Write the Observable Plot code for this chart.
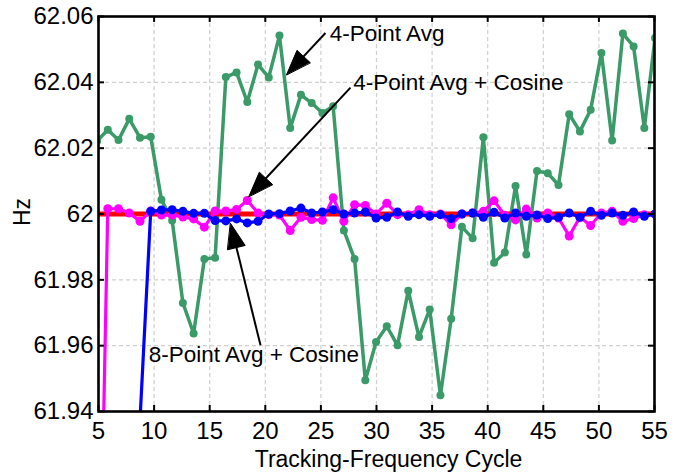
<!DOCTYPE html>
<html>
<head>
<meta charset="utf-8">
<script src="https://cdn.jsdelivr.net/npm/d3@7"></script>
<script src="https://cdn.jsdelivr.net/npm/@observablehq/plot@0.6"></script>
<style>
  html, body { margin: 0; padding: 0; background: #fff; }
</style>
</head>
<body>
<div id="chart"></div>
<script>
// Estimated frequency per tracking-frequency cycle, for three estimators.
const firstCycle = 4.87;
const cycleStep = 0.965;

const avg4Hz = [
  62.0222, 62.0256, 62.0225, 62.0289, 62.0232, 62.0235, 62.0043, 61.998, 61.973, 61.9637,
  61.9863, 61.9867, 62.0416, 62.043, 62.034, 62.0454, 62.0415, 62.0542, 62.0261, 62.0362,
  62.0337, 62.0307, 62.0327, 61.995, 61.9863, 61.9495, 61.9611, 61.9659, 61.9601, 61.9767,
  61.9626, 61.971, 61.9449, 61.9682, 61.9961, 61.9926, 62.0233, 61.9852, 61.9883, 62.0085,
  61.9877, 62.0131, 62.0124, 62.0088, 62.0303, 62.0251, 62.0317, 62.0489, 62.0223, 62.0548,
  62.0509, 62.0261, 62.0535
];

const avg4CosHz = [
  61.837, 62.0016, 62.0016, 62.0003, 61.9978, 62.0009, 61.9997, 61.9997, 61.9991, 61.9985,
  61.996, 62.0009, 62.0009, 62.0014, 62.0041, 62.0003, 61.9998, 61.9997, 61.995, 61.999,
  61.9983, 61.9981, 62.0049, 61.9978, 62.0028, 62.0026, 62.0, 62.0033, 61.9998, 61.9998,
  62.0013, 61.9998, 62.0, 61.9967, 62.0, 62.0003, 62.0008, 62.004, 61.9996, 61.9982,
  62.0015, 61.9988, 62.0003, 61.9988, 61.9933, 61.999, 61.9965, 62.0003, 62.0008, 61.9978,
  61.9986, 61.9998, 62.0
];

const avg8CosHz = [
  null, null, null, null, 61.9373, 62.0008, 62.0012, 62.0013, 62.0008, 62.0002,
  62.0002, 61.998, 61.9979, 61.9985, 61.9973, 61.9978, 62.0, 62.0001, 62.0009, 62.0018,
  62.0003, 62.0006, 62.0013, 62.0, 62.0003, 62.0006, 61.9988, 61.999, 62.0006, 61.9993,
  61.9998, 61.9993, 61.9998, 61.9986, 62.0, 62.0003, 61.999, 62.0005, 61.9988, 62.0003,
  61.9993, 61.9997, 61.9986, 61.999, 62.0003, 61.999, 62.0008, 61.9996, 62.0003, 61.9996,
  62.0006, 61.9993, 62.0
];

const nominalHz = 62;

const xTicks = [5, 10, 15, 20, 25, 30, 35, 40, 45, 50, 55];
const yTicks = [61.94, 61.96, 61.98, 62, 62.02, 62.04, 62.06];

// Callout labels (text baseline-left anchor) and their arrows (tail -> tip)
const callouts = [
  {text: "4-Point Avg", x: 25.8, y: 62.0525},
  {text: "4-Point Avg + Cosine", x: 27.9, y: 62.0376},
  {text: "8-Point Avg + Cosine", x: 9.52, y: 61.955}
];
const arrows = [
  {x1: 25.41, y1: 62.055, x2: 21.91, y2: 62.0423},
  {x1: 27.66, y1: 62.0384, x2: 18.52, y2: 62.0053},
  {x1: 19.57, y1: 61.9601, x2: 16.87, y2: 61.99717}
];

const W = 676, H = 472;
const M = {top: 16, right: 22, bottom: 61, left: 98};
const xDomain = [5, 55], yDomain = [61.94, 62.06];
const frameW = W - M.left - M.right, frameH = H - M.top - M.bottom;

const toRows = (values) => values
  .map((hz, i) => ({cycle: firstCycle + i * cycleStep, hz}))
  .filter(d => d.hz != null);

const green = toRows(avg4Hz);
const magenta = toRows(avg4CosHz);
const blue = toRows(avg8CosHz);

// Arrowheads as filled triangles, built in pixel space then mapped back to data
const sx = Plot.scale({x: {domain: xDomain, range: [M.left, W - M.right]}});
const sy = Plot.scale({y: {domain: yDomain, range: [H - M.bottom, M.top]}});
const headLen = 25, headHalf = 9;
const heads = arrows.flatMap((a, id) => {
  const tx = sx.apply(a.x2), ty = sy.apply(a.y2);
  const fx = sx.apply(a.x1), fy = sy.apply(a.y1);
  const len = Math.hypot(tx - fx, ty - fy);
  const ux = (tx - fx) / len, uy = (ty - fy) / len;
  const bx = tx - ux * headLen, by = ty - uy * headLen;
  return [
    [tx, ty],
    [bx - uy * headHalf, by + ux * headHalf],
    [bx + uy * headHalf, by - ux * headHalf]
  ].map(([px, py]) => ({id, x: sx.invert(px), y: sy.invert(py)}));
});
const shafts = arrows.map(a => {
  const tx = sx.apply(a.x2), ty = sy.apply(a.y2);
  const fx = sx.apply(a.x1), fy = sy.apply(a.y1);
  const len = Math.hypot(tx - fx, ty - fy);
  const k = (len - headLen + 2) / len;
  return {x1: a.x1, y1: a.y1, x2: sx.invert(fx + (tx - fx) * k), y2: sy.invert(fy + (ty - fy) * k)};
});

const GREEN = "#3a9a68", MAGENTA = "#ff00ff", BLUE = "#0000ff", RED = "#ff0000";

const chart = Plot.plot({
  width: W,
  height: H,
  marginTop: M.top,
  marginRight: M.right,
  marginBottom: M.bottom,
  marginLeft: M.left,
  style: {
    fontFamily: "'Liberation Sans', Arial, sans-serif",
    fontSize: "22px",
    color: "black",
    background: "white"
  },
  x: {domain: xDomain, nice: false},
  y: {domain: yDomain, nice: false},
  marks: [
    Plot.gridX(xTicks, {stroke: "#cfcfcf", strokeOpacity: 1, strokeWidth: 1.2, strokeDasharray: "4,3"}),
    Plot.gridY(yTicks, {stroke: "#cfcfcf", strokeOpacity: 1, strokeWidth: 1.2, strokeDasharray: "4,3"}),

    // 4-point average
    Plot.line(green, {x: "cycle", y: "hz", stroke: GREEN, strokeWidth: 3.5, clip: true}),
    Plot.dot(green, {x: "cycle", y: "hz", fill: GREEN, r: 4, clip: true}),

    // nominal frequency
    Plot.ruleY([nominalHz], {stroke: RED, strokeWidth: 5}),

    // 4-point average + cosine
    Plot.line(magenta, {x: "cycle", y: "hz", stroke: MAGENTA, strokeWidth: 3.2, clip: true}),
    Plot.dot(magenta, {x: "cycle", y: "hz", fill: MAGENTA, r: 4.5, clip: true}),

    // 8-point average + cosine
    Plot.line(blue, {x: "cycle", y: "hz", stroke: BLUE, strokeWidth: 3.2, clip: true}),
    Plot.dot(blue, {x: "cycle", y: "hz", fill: BLUE, r: 4.5, clip: true}),

    // callouts
    Plot.link(shafts, {x1: "x1", y1: "y1", x2: "x2", y2: "y2", stroke: "black", strokeWidth: 2, strokeLinecap: "butt"}),
    Plot.line(heads, {x: "x", y: "y", z: "id", curve: "linear-closed", fill: "black", stroke: "black", strokeWidth: 1}),
    Plot.text(callouts, {x: "x", y: "y", text: "text", textAnchor: "start", lineAnchor: "bottom", fill: "black", fontSize: 22.5}),

    // inward ticks on all four sides
    Plot.tickX(xTicks, {x: d => d, insetTop: frameH - 6, stroke: "black", strokeWidth: 2}),
    Plot.tickX(xTicks, {x: d => d, insetBottom: frameH - 6, stroke: "black", strokeWidth: 2}),
    Plot.tickY(yTicks, {y: d => d, insetRight: frameW - 6, stroke: "black", strokeWidth: 2}),
    Plot.tickY(yTicks, {y: d => d, insetLeft: frameW - 6, stroke: "black", strokeWidth: 2}),

    Plot.axisX({ticks: xTicks, tickSize: 0, tickPadding: 10, label: null, fontSize: 24, tickFormat: d => String(d)}),
    Plot.axisY({ticks: yTicks, tickSize: 0, tickPadding: 5, label: null, fontSize: 24, tickFormat: d => String(+d.toFixed(2))}),

    Plot.text(["Tracking-Frequency Cycle"], {frameAnchor: "bottom", dx: 12, dy: 55, lineAnchor: "bottom", fontSize: 23}),
    Plot.text(["Hz"], {frameAnchor: "left", dx: -76, dy: 12, rotate: -90, fontSize: 23}),

    Plot.frame({stroke: "black", strokeWidth: 2.6})
  ]
});

document.getElementById("chart").appendChild(chart);
</script>
</body>
</html>
